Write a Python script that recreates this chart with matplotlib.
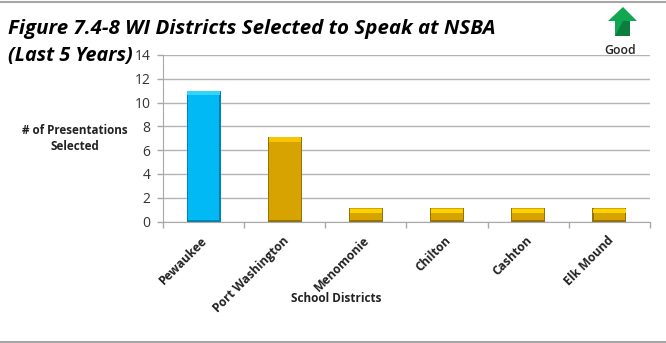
import matplotlib
matplotlib.use('Agg')
import matplotlib.pyplot as plt
from matplotlib.patches import Polygon
from matplotlib.lines import Line2D

# Data
districts = ['Pewaukee', 'Port Washington', 'Menomonie', 'Chilton', 'Cashton', 'Elk Mound']
presentations = [11, 7.1, 1.1, 1.1, 1.1, 1.1]
bar_colors = ['#00b9f5', '#d6a300', '#d6a300', '#d6a300', '#d6a300', '#d6a300']
dark_colors = ['#0283b0', '#96720a', '#96720a', '#96720a', '#96720a', '#96720a']
top_colors = ['#35d4ff', '#f6c400', '#fbd400', '#fbd400', '#fbd400', '#fbd400']
y_ticks = [0, 2, 4, 6, 8, 10, 12, 14]

W, H = 666, 343
plt.rcParams['font.family'] = ['Open Sans', 'DejaVu Sans']
fig = plt.figure(figsize=(W / 100, H / 100), dpi=100)
ax = fig.add_axes([163 / W, 1 - 221.5 / H, (650 - 163) / W, (221.5 - 55) / H])

x = list(range(len(districts)))
# bevel: dark body, lighter face on top, bright band at the top
ax.bar(x, presentations, width=0.42, color=dark_colors, zorder=3)
face = [v - 0.16 for v in presentations]
ax.bar(x, face, width=0.39, bottom=0.16, color=bar_colors, zorder=4)
ax.bar(x, [0.36] * 6, width=0.40, bottom=[v - 0.38 for v in presentations],
       color=top_colors, zorder=5)

ax.set_xlim(-0.5, 5.5)
ax.set_ylim(0, 14)
ax.set_yticks(y_ticks)
ax.set_xticks([i - 0.5 for i in range(7)])
ax.set_xticklabels([])
ax.yaxis.grid(True, color='#b4b4b4', linewidth=1)
ax.set_axisbelow(True)
for s in ['top', 'right']:
    ax.spines[s].set_visible(False)
for s in ['left', 'bottom']:
    ax.spines[s].set_color('#a8a8a8')
ax.tick_params(axis='both', color='#a8a8a8', length=4, width=1)
ax.tick_params(axis='y', labelsize=10, labelcolor='#333333', pad=5)

for i, name in enumerate(districts):
    ax.annotate(name, xy=(i, 0), xytext=(-2, -9), textcoords='offset points',
                rotation=45, ha='right', va='top', rotation_mode='anchor',
                fontsize=8.7, fontweight='bold', color='#222222')

fig.text(75 / W, 1 - 139 / H, '# of Presentations\nSelected', ha='center', va='center',
         fontsize=8.4, fontweight='bold', color='#222222', linespacing=1.3)
fig.text(336 / W, 1 - 298 / H, 'School Districts', ha='center', va='center',
         fontsize=8.5, fontweight='bold', color='#222222')
fig.text(8 / W, 1 - 29 / H, 'Figure 7.4-8 WI Districts Selected to Speak at NSBA', ha='left', va='center',
         fontsize=14.75, fontweight='bold', fontstyle='italic', color='black')
fig.text(8 / W, 1 - 56 / H, '(Last 5 Years)', ha='left', va='center',
         fontsize=14.2, fontweight='bold', fontstyle='italic', color='black')
fig.text(620 / W, 1 - 50 / H, 'Good', ha='center', va='center',
         fontsize=8.8, fontweight='semibold', color='#222222')


def px(points):
    return [(a / W, 1 - b / H) for a, b in points]


# arrow icon
fig.add_artist(Polygon(px([(623, 7), (637, 21), (630, 21), (630, 36), (615, 36), (615, 21), (608, 21)]),
                       closed=True, facecolor='#11a650', edgecolor='none', transform=fig.transFigure))
fig.add_artist(Polygon(px([(623, 21), (630, 21), (630, 36), (615, 36)]),
                       closed=True, facecolor='#0b7d3c', edgecolor='none', transform=fig.transFigure))

# frame lines, top and bottom
for yy in [2, 342]:
    fig.add_artist(Line2D([0, 1], [1 - yy / H, 1 - yy / H], color='#a6a6a6', linewidth=1.5))

fig.savefig('out.png', dpi=100)
